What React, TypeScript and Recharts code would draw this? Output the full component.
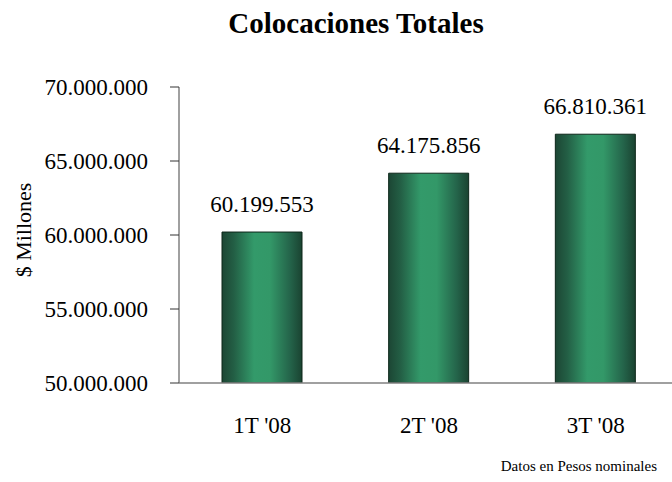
import { BarChart, Bar, XAxis, YAxis, LabelList } from 'recharts';

const categories = ["1T '08", "2T '08", "3T '08"];
const colocaciones = [60199553, 64175856, 66810361];
const yTicks = [50000000, 55000000, 60000000, 65000000, 70000000];

const data = categories.map((name, i) => ({ name, value: colocaciones[i] }));
const separators = categories.map((_, i) => i).concat(categories.length);

const fmt = (v: number) => String(Math.round(v)).replace(/\B(?=(\d{3})+(?!\d))/g, '.');

const serif = "'Liberation Serif', 'DejaVu Serif', serif";

export default function App() {
  return (
    <div
      style={{
        position: 'absolute',
        left: 0,
        top: 0,
        width: 672,
        height: 482,
        overflow: 'hidden',
        background: '#fff',
        fontFamily: serif,
      }}
    >
      <style>{`.recharts-wrapper svg text, .recharts-text { font-family: ${serif} !important; }`}</style>
      <div
        style={{
          position: 'absolute',
          left: 156,
          width: 400,
          top: 9,
          textAlign: 'center',
          fontSize: 29,
          fontWeight: 'bold',
          lineHeight: 1,
          color: '#000',
        }}
      >
        Colocaciones Totales
      </div>

      <div
        style={{
          position: 'absolute',
          left: 24,
          top: 230,
          transform: 'translate(-50%, -50%) rotate(-90deg)',
          whiteSpace: 'nowrap',
          fontSize: 22,
          lineHeight: 1,
          color: '#000',
        }}
      >
        $ Millones
      </div>

      <BarChart
        width={720}
        height={482}
        data={data}
        margin={{ top: 87, right: 41, left: 0, bottom: 0 }}
        style={{ fontFamily: serif }}
      >
        <defs>
          <linearGradient id="barGrad" x1="0" y1="0" x2="1" y2="0">
            <stop offset="0%" stopColor="#1c4634" />
            <stop offset="15%" stopColor="#235f45" />
            <stop offset="40%" stopColor="#339a6a" />
            <stop offset="60%" stopColor="#339868" />
            <stop offset="85%" stopColor="#24644a" />
            <stop offset="100%" stopColor="#1a4331" />
          </linearGradient>
        </defs>
        <XAxis
          xAxisId="sep"
          type="number"
          domain={[0, categories.length]}
          ticks={separators}
          tick={false}
          axisLine={false}
          tickLine={{ stroke: '#333' }}
          tickSize={8}
          height={0}
        />
        <XAxis
          xAxisId="cat"
          dataKey="name"
          axisLine={{ stroke: '#808080', strokeWidth: 1.5 }}
          tickLine={false}
          tickSize={0}
          tickMargin={34}
          height={99}
          tick={{ fill: '#000', fontSize: 23 }}
        />
        <YAxis
          domain={[50000000, 70000000]}
          ticks={yTicks}
          tickFormatter={fmt}
          width={179}
          tickSize={9}
          tickMargin={22}
          axisLine={{ stroke: '#808080', strokeWidth: 1.5 }}
          tickLine={{ stroke: '#333' }}
          tick={{ fill: '#000', fontSize: 23 }}
          allowDataOverflow
        />
        <Bar
          xAxisId="cat"
          dataKey="value"
          barSize={80}
          fill="url(#barGrad)"
          stroke="#0c2619"
          strokeWidth={1}
          isAnimationActive={false}
        >
          <LabelList
            dataKey="value"
            position="top"
            offset={20}
            formatter={(v: any) => fmt(Number(v))}
            style={{ fill: '#000', fontSize: 23 }}
          />
        </Bar>
      </BarChart>

      <div
        style={{
          position: 'absolute',
          right: 15,
          top: 459,
          fontSize: 15,
          lineHeight: 1,
          color: '#000',
          whiteSpace: 'nowrap',
        }}
      >
        Datos en Pesos nominales
      </div>
    </div>
  );
}
